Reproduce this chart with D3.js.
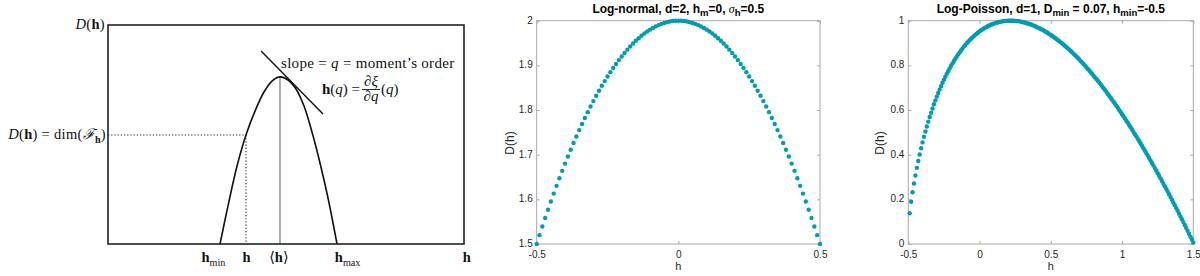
<!DOCTYPE html>
<html>
<head>
<meta charset="utf-8">
<script src="https://cdn.jsdelivr.net/npm/d3@7"></script>
<style>
  body { margin: 0; background: #fff; }
  svg { display: block; }
</style>
</head>
<body>
<svg id="chart" width="1200" height="276"></svg>
<script>
// ---------- left: schematic D(h) (arbitrary units) ----------
var schemH = [3.146, 3.371, 3.624, 3.876, 4.129, 4.382, 4.607, 4.831, 5.056, 5.281, 5.506, 5.730, 5.955, 6.180, 6.433];
var schemD = [0, 0.174, 0.356, 0.498, 0.607, 0.694, 0.744, 0.763, 0.749, 0.708, 0.630, 0.511, 0.370, 0.210, 0];
var selH = 3.876, selD = 0.498;     // chosen h and its D(h)
var meanH = 4.831, peakD = 0.763;   // <h>
var tangentH = [4.30, 6.04], tangentD = [0.881, 0.594];
var schemLabels = ["hmin", "h", "mean", "hmax", "axis"];
var schemLabelPos = [2.96, 3.89, 4.80, 6.73, 10.08];

// ---------- middle: log-normal ----------
var lnH = [-0.5,-0.49,-0.48,-0.47,-0.46,-0.45,-0.44,-0.43,-0.42,-0.41,
  -0.4,-0.39,-0.38,-0.37,-0.36,-0.35,-0.34,-0.33,-0.32,-0.31,
  -0.3,-0.29,-0.28,-0.27,-0.26,-0.25,-0.24,-0.23,-0.22,-0.21,
  -0.2,-0.19,-0.18,-0.17,-0.16,-0.15,-0.14,-0.13,-0.12,-0.11,
  -0.1,-0.09,-0.08,-0.07,-0.06,-0.05,-0.04,-0.03,-0.02,-0.01,
  0,
  0.01,0.02,0.03,0.04,0.05,0.06,0.07,0.08,0.09,0.1,
  0.11,0.12,0.13,0.14,0.15,0.16,0.17,0.18,0.19,0.2,
  0.21,0.22,0.23,0.24,0.25,0.26,0.27,0.28,0.29,0.3,
  0.31,0.32,0.33,0.34,0.35,0.36,0.37,0.38,0.39,0.4,
  0.41,0.42,0.43,0.44,0.45,0.46,0.47,0.48,0.49,0.5];
var lnD = [1.5,1.5198,1.5392,1.5582,1.5768,1.595,1.6128,1.6302,1.6472,1.6638,
  1.68,1.6958,1.7112,1.7262,1.7408,1.755,1.7688,1.7822,1.7952,1.8078,
  1.82,1.8318,1.8432,1.8542,1.8648,1.875,1.8848,1.8942,1.9032,1.9118,
  1.92,1.9278,1.9352,1.9422,1.9488,1.955,1.9608,1.9662,1.9712,1.9758,
  1.98,1.9838,1.9872,1.9902,1.9928,1.995,1.9968,1.9982,1.9992,1.9998,
  2,
  1.9998,1.9992,1.9982,1.9968,1.995,1.9928,1.9902,1.9872,1.9838,1.98,
  1.9758,1.9712,1.9662,1.9608,1.955,1.9488,1.9422,1.9352,1.9278,1.92,
  1.9118,1.9032,1.8942,1.8848,1.875,1.8648,1.8542,1.8432,1.8318,1.82,
  1.8078,1.7952,1.7822,1.7688,1.755,1.7408,1.7262,1.7112,1.6958,1.68,
  1.6638,1.6472,1.6302,1.6128,1.595,1.5768,1.5582,1.5392,1.5198,1.5];
var lnXTicks = [-0.5, 0, 0.5];
var lnYTicks = [1.5, 1.6, 1.7, 1.8, 1.9, 2];

// ---------- right: log-Poisson ----------
var lpH = [-0.49,-0.48,-0.47,-0.46,-0.45,-0.44,-0.43,-0.42,-0.41,-0.4,
  -0.39,-0.38,-0.37,-0.36,-0.35,-0.34,-0.33,-0.32,-0.31,-0.3,
  -0.29,-0.28,-0.27,-0.26,-0.25,-0.24,-0.23,-0.22,-0.21,-0.2,
  -0.19,-0.18,-0.17,-0.16,-0.15,-0.14,-0.13,-0.12,-0.11,-0.1,
  -0.09,-0.08,-0.07,-0.06,-0.05,-0.04,-0.03,-0.02,-0.01,0,
  0.01,0.02,0.03,0.04,0.05,0.06,0.07,0.08,0.09,0.1,
  0.11,0.12,0.13,0.14,0.15,0.16,0.17,0.18,0.19,0.2,
  0.21,0.22,0.23,0.24,0.25,0.26,0.27,0.28,0.29,0.3,
  0.31,0.32,0.33,0.34,0.35,0.36,0.37,0.38,0.39,0.4,
  0.41,0.42,0.43,0.44,0.45,0.46,0.47,0.48,0.49,0.5,
  0.51,0.52,0.53,0.54,0.55,0.56,0.57,0.58,0.59,0.6,
  0.61,0.62,0.63,0.64,0.65,0.66,0.67,0.68,0.69,0.7,
  0.71,0.72,0.73,0.74,0.75,0.76,0.77,0.78,0.79,0.8,
  0.81,0.82,0.83,0.84,0.85,0.86,0.87,0.88,0.89,0.9,
  0.91,0.92,0.93,0.94,0.95,0.96,0.97,0.98,0.99,1,
  1.01,1.02,1.03,1.04,1.05,1.06,1.07,1.08,1.09,1.1,
  1.11,1.12,1.13,1.14,1.15,1.16,1.17,1.18,1.19,1.2,
  1.21,1.22,1.23,1.24,1.25,1.26,1.27,1.28,1.29,1.3,
  1.31,1.32,1.33,1.34,1.35,1.36,1.37,1.38,1.39,1.4,
  1.41,1.42,1.43,1.44,1.45,1.46,1.47,1.48,1.49,1.5];
var lpD = [0.138,0.189,0.232,0.271,0.307,0.341,0.372,0.401,0.429,0.455,
  0.480,0.504,0.526,0.548,0.569,0.588,0.607,0.626,0.643,0.660,
  0.676,0.692,0.707,0.722,0.736,0.749,0.762,0.774,0.786,0.798,
  0.809,0.820,0.830,0.840,0.849,0.858,0.867,0.875,0.884,0.891,
  0.899,0.906,0.913,0.919,0.925,0.931,0.937,0.942,0.947,0.952,
  0.957,0.961,0.965,0.969,0.972,0.976,0.979,0.982,0.984,0.987,
  0.989,0.991,0.993,0.994,0.996,0.997,0.998,0.999,0.999,1.000,
  1.000,1.000,1.000,1.000,0.999,0.998,0.998,0.997,0.996,0.994,
  0.993,0.991,0.989,0.987,0.985,0.983,0.981,0.978,0.975,0.972,
  0.969,0.966,0.963,0.960,0.956,0.952,0.948,0.945,0.940,0.936,
  0.932,0.927,0.923,0.918,0.913,0.908,0.903,0.898,0.892,0.887,
  0.881,0.876,0.870,0.864,0.858,0.852,0.846,0.839,0.833,0.826,
  0.819,0.813,0.806,0.799,0.791,0.784,0.777,0.769,0.762,0.754,
  0.746,0.739,0.731,0.723,0.715,0.706,0.698,0.690,0.681,0.672,
  0.664,0.655,0.646,0.637,0.628,0.619,0.610,0.600,0.591,0.581,
  0.572,0.562,0.552,0.543,0.533,0.523,0.513,0.502,0.492,0.482,
  0.471,0.461,0.450,0.440,0.429,0.418,0.407,0.396,0.385,0.374,
  0.363,0.352,0.340,0.329,0.317,0.306,0.294,0.282,0.270,0.259,
  0.247,0.235,0.223,0.210,0.198,0.186,0.174,0.161,0.149,0.136,
  0.123,0.111,0.098,0.085,0.072,0.059,0.046,0.033,0.020,0.007];
var lpXTicks = [-0.5, 0, 0.5, 1, 1.5];
var lpYTicks = [0, 0.2, 0.4, 0.6, 0.8, 1];

var svg = d3.select("#chart");
var serif = "'Liberation Serif', 'DejaVu Serif', serif";
var sans = "'Liberation Sans', Arial, sans-serif";
var dotColor = "rgb(0, 155, 180)";

// rich text helper: parts = [{t, i, b, sub}]
function rich(g, x, y, parts, size, anchor, spacing) {
  var t = g.append("text").attr("x", x).attr("y", y)
    .attr("font-family", serif).attr("font-size", size)
    .attr("text-anchor", anchor || "start").attr("fill", "#111");
  if (spacing) t.attr("letter-spacing", spacing);
  var shift = 0;
  parts.forEach(function(p) {
    var s = t.append("tspan").text(p.t);
    if (p.i) s.attr("font-style", "italic");
    if (p.b) s.attr("font-weight", "bold");
    var want = p.sub ? size * 0.3 : 0;
    if (want !== shift) { s.attr("dy", want - shift); shift = want; }
    if (p.sub) s.attr("font-size", size * 0.7);
  });
  return t;
}

// ================= left panel =================
var sx = d3.scaleLinear().domain([0, 10]).range([108, 464]);
var sy = d3.scaleLinear().domain([0, 1]).range([244, 25]);
var left = svg.append("g");

left.append("line")
  .attr("x1", sx(0)).attr("x2", sx(selH)).attr("y1", sy(selD)).attr("y2", sy(selD))
  .attr("stroke", "#222").attr("stroke-width", 1.1).attr("stroke-dasharray", "1.2,2");
left.append("line")
  .attr("x1", sx(selH)).attr("x2", sx(selH)).attr("y1", sy(selD)).attr("y2", sy(0))
  .attr("stroke", "#222").attr("stroke-width", 1.1).attr("stroke-dasharray", "1.2,2");
left.append("line")
  .attr("x1", sx(meanH)).attr("x2", sx(meanH)).attr("y1", sy(peakD)).attr("y2", sy(0))
  .attr("stroke", "#777").attr("stroke-width", 1.2);

var schemLine = d3.line()
  .x(function(d) { return sx(d[0]); })
  .y(function(d) { return sy(d[1]); })
  .curve(d3.curveCatmullRom.alpha(0.5));
left.append("path")
  .datum(schemH.map(function(h, i) { return [h, schemD[i]]; }))
  .attr("d", schemLine)
  .attr("fill", "none").attr("stroke", "#111").attr("stroke-width", 1.6);

left.append("line")
  .attr("x1", sx(tangentH[0])).attr("x2", sx(tangentH[1]))
  .attr("y1", sy(tangentD[0])).attr("y2", sy(tangentD[1]))
  .attr("stroke", "#111").attr("stroke-width", 1.4);

left.append("rect")
  .attr("x", sx(0)).attr("y", sy(1)).attr("width", sx(10) - sx(0)).attr("height", sy(0) - sy(1))
  .attr("fill", "none").attr("stroke", "#222").attr("stroke-width", 1.6);

rich(left, 105, 29, [{t: "D", i: true}, {t: "("}, {t: "h", b: true}, {t: ")"}], 14.5, "end", 0.3);
rich(left, 106, 139, [{t: "D", i: true}, {t: "("}, {t: "h", b: true}, {t: ") = dim("},
  {t: "\u2131", i: true}, {t: "h", b: true, sub: true}, {t: ")"}], 14.5, "end", 0.3);
rich(left, 281, 68, [{t: "slope = "}, {t: "q", i: true}, {t: " = moment\u2019s order"}], 15, "start", 0.3);
rich(left, 322, 94, [{t: "h", b: true}, {t: "("}, {t: "q", i: true}, {t: ") ="}], 15);
rich(left, 371, 86, [{t: "\u2202\u03be", i: true}], 15, "middle");
left.append("line").attr("x1", 362).attr("x2", 380).attr("y1", 89.5).attr("y2", 89.5)
  .attr("stroke", "#111").attr("stroke-width", 0.9);
rich(left, 371, 101, [{t: "\u2202q", i: true}], 15, "middle");
rich(left, 381, 94, [{t: "("}, {t: "q", i: true}, {t: ")"}], 15);

var labelParts = {
  hmin: [{t: "h", b: true}, {t: "min", sub: true}],
  h: [{t: "h", b: true}],
  mean: [{t: "\u27e8"}, {t: "h", b: true}, {t: "\u27e9"}],
  hmax: [{t: "h", b: true}, {t: "max", sub: true}],
  axis: [{t: "h", b: true}]
};
schemLabels.forEach(function(k, i) {
  rich(left, sx(schemLabelPos[i]), 262, labelParts[k], 14.5, "middle");
});

// ================= MATLAB-like panels =================
function panel(cfg) {
  var x = d3.scaleLinear().domain(cfg.xDom).range([cfg.x0, cfg.x1]);
  var y = d3.scaleLinear().domain(cfg.yDom).range([cfg.y1, cfg.y0]);
  var g = svg.append("g").attr("font-family", sans);
  var fmt = function(d) { return String(d); };

  var ax = [
    g.append("g").attr("transform", "translate(0," + cfg.y1 + ")")
      .call(d3.axisBottom(x).tickValues(cfg.xTicks).tickFormat(fmt).tickSizeInner(-3).tickSizeOuter(0).tickPadding(6.5)),
    g.append("g").attr("transform", "translate(" + cfg.x0 + ",0)")
      .call(d3.axisLeft(y).tickValues(cfg.yTicks).tickFormat(fmt).tickSizeInner(-3).tickSizeOuter(0).tickPadding(4)),
    g.append("g").attr("transform", "translate(0," + cfg.y0 + ")")
      .call(d3.axisTop(x).tickValues(cfg.xTicks).tickFormat("").tickSizeInner(-3).tickSizeOuter(0)),
    g.append("g").attr("transform", "translate(" + cfg.x1 + ",0)")
      .call(d3.axisRight(y).tickValues(cfg.yTicks).tickFormat("").tickSizeInner(-3).tickSizeOuter(0))
  ];
  ax.forEach(function(a) {
    a.select(".domain").remove();
    a.selectAll("line").attr("stroke", "#a8a8a8");
    a.selectAll("text").attr("fill", "#262626").attr("font-size", 10).attr("font-family", sans);
  });
  ax[1].selectAll("text").attr("dy", "0.25em");
  g.append("rect")
    .attr("x", cfg.x0).attr("y", cfg.y0).attr("width", cfg.x1 - cfg.x0).attr("height", cfg.y1 - cfg.y0)
    .attr("fill", "none").attr("stroke", "#a8a8a8").attr("stroke-width", 1);

  g.selectAll("circle.pt")
    .data(cfg.h.map(function(h, i) { return [h, cfg.d[i]]; }))
    .enter().append("circle")
    .attr("class", "pt")
    .attr("cx", function(d) { return x(d[0]); })
    .attr("cy", function(d) { return y(d[1]); })
    .attr("r", 2.2)
    .attr("fill", dotColor);

  // title
  var title = g.append("text").attr("x", (cfg.x0 + cfg.x1) / 2).attr("y", 12.5)
    .attr("text-anchor", "middle").attr("font-weight", "bold").attr("font-size", 12).attr("fill", "#000");
  var shift = 0;
  cfg.title.forEach(function(p) {
    var s = title.append("tspan").text(p.t);
    var want = p.sub ? 3 : 0;
    if (want !== shift) { s.attr("dy", want - shift); shift = want; }
    if (p.sub) s.attr("font-size", 9.5);
    if (p.i) s.attr("font-style", "italic").attr("font-weight", "normal").attr("font-family", serif);
  });

  g.append("text").attr("x", (cfg.x0 + cfg.x1) / 2).attr("y", 270)
    .attr("text-anchor", "middle").attr("font-size", 11).attr("fill", "#262626").text("h");
  g.append("text").attr("transform", "translate(" + cfg.yLabelX + ",143) rotate(-90)")
    .attr("text-anchor", "middle").attr("font-size", 12).attr("fill", "#262626").text("D(h)");
}

panel({
  x0: 536.7, x1: 820, y0: 20.7, y1: 244,
  xDom: [-0.5, 0.5], yDom: [1.5, 2],
  xTicks: lnXTicks, yTicks: lnYTicks,
  h: lnH, d: lnD, yLabelX: 514,
  title: [{t: "Log-normal, d=2, h"}, {t: "m", sub: true}, {t: "=0, "}, {t: "\u03c3", i: true},
          {t: "h", sub: true}, {t: "=0.5"}]
});

panel({
  x0: 908.3, x1: 1193.3, y0: 20.7, y1: 244,
  xDom: [-0.5, 1.5], yDom: [0, 1],
  xTicks: lpXTicks, yTicks: lpYTicks,
  h: lpH, d: lpD, yLabelX: 884,
  title: [{t: "Log-Poisson, d=1, D"}, {t: "min", sub: true}, {t: " = 0.07, h"}, {t: "min", sub: true},
          {t: "=-0.5"}]
});
</script>
</body>
</html>
